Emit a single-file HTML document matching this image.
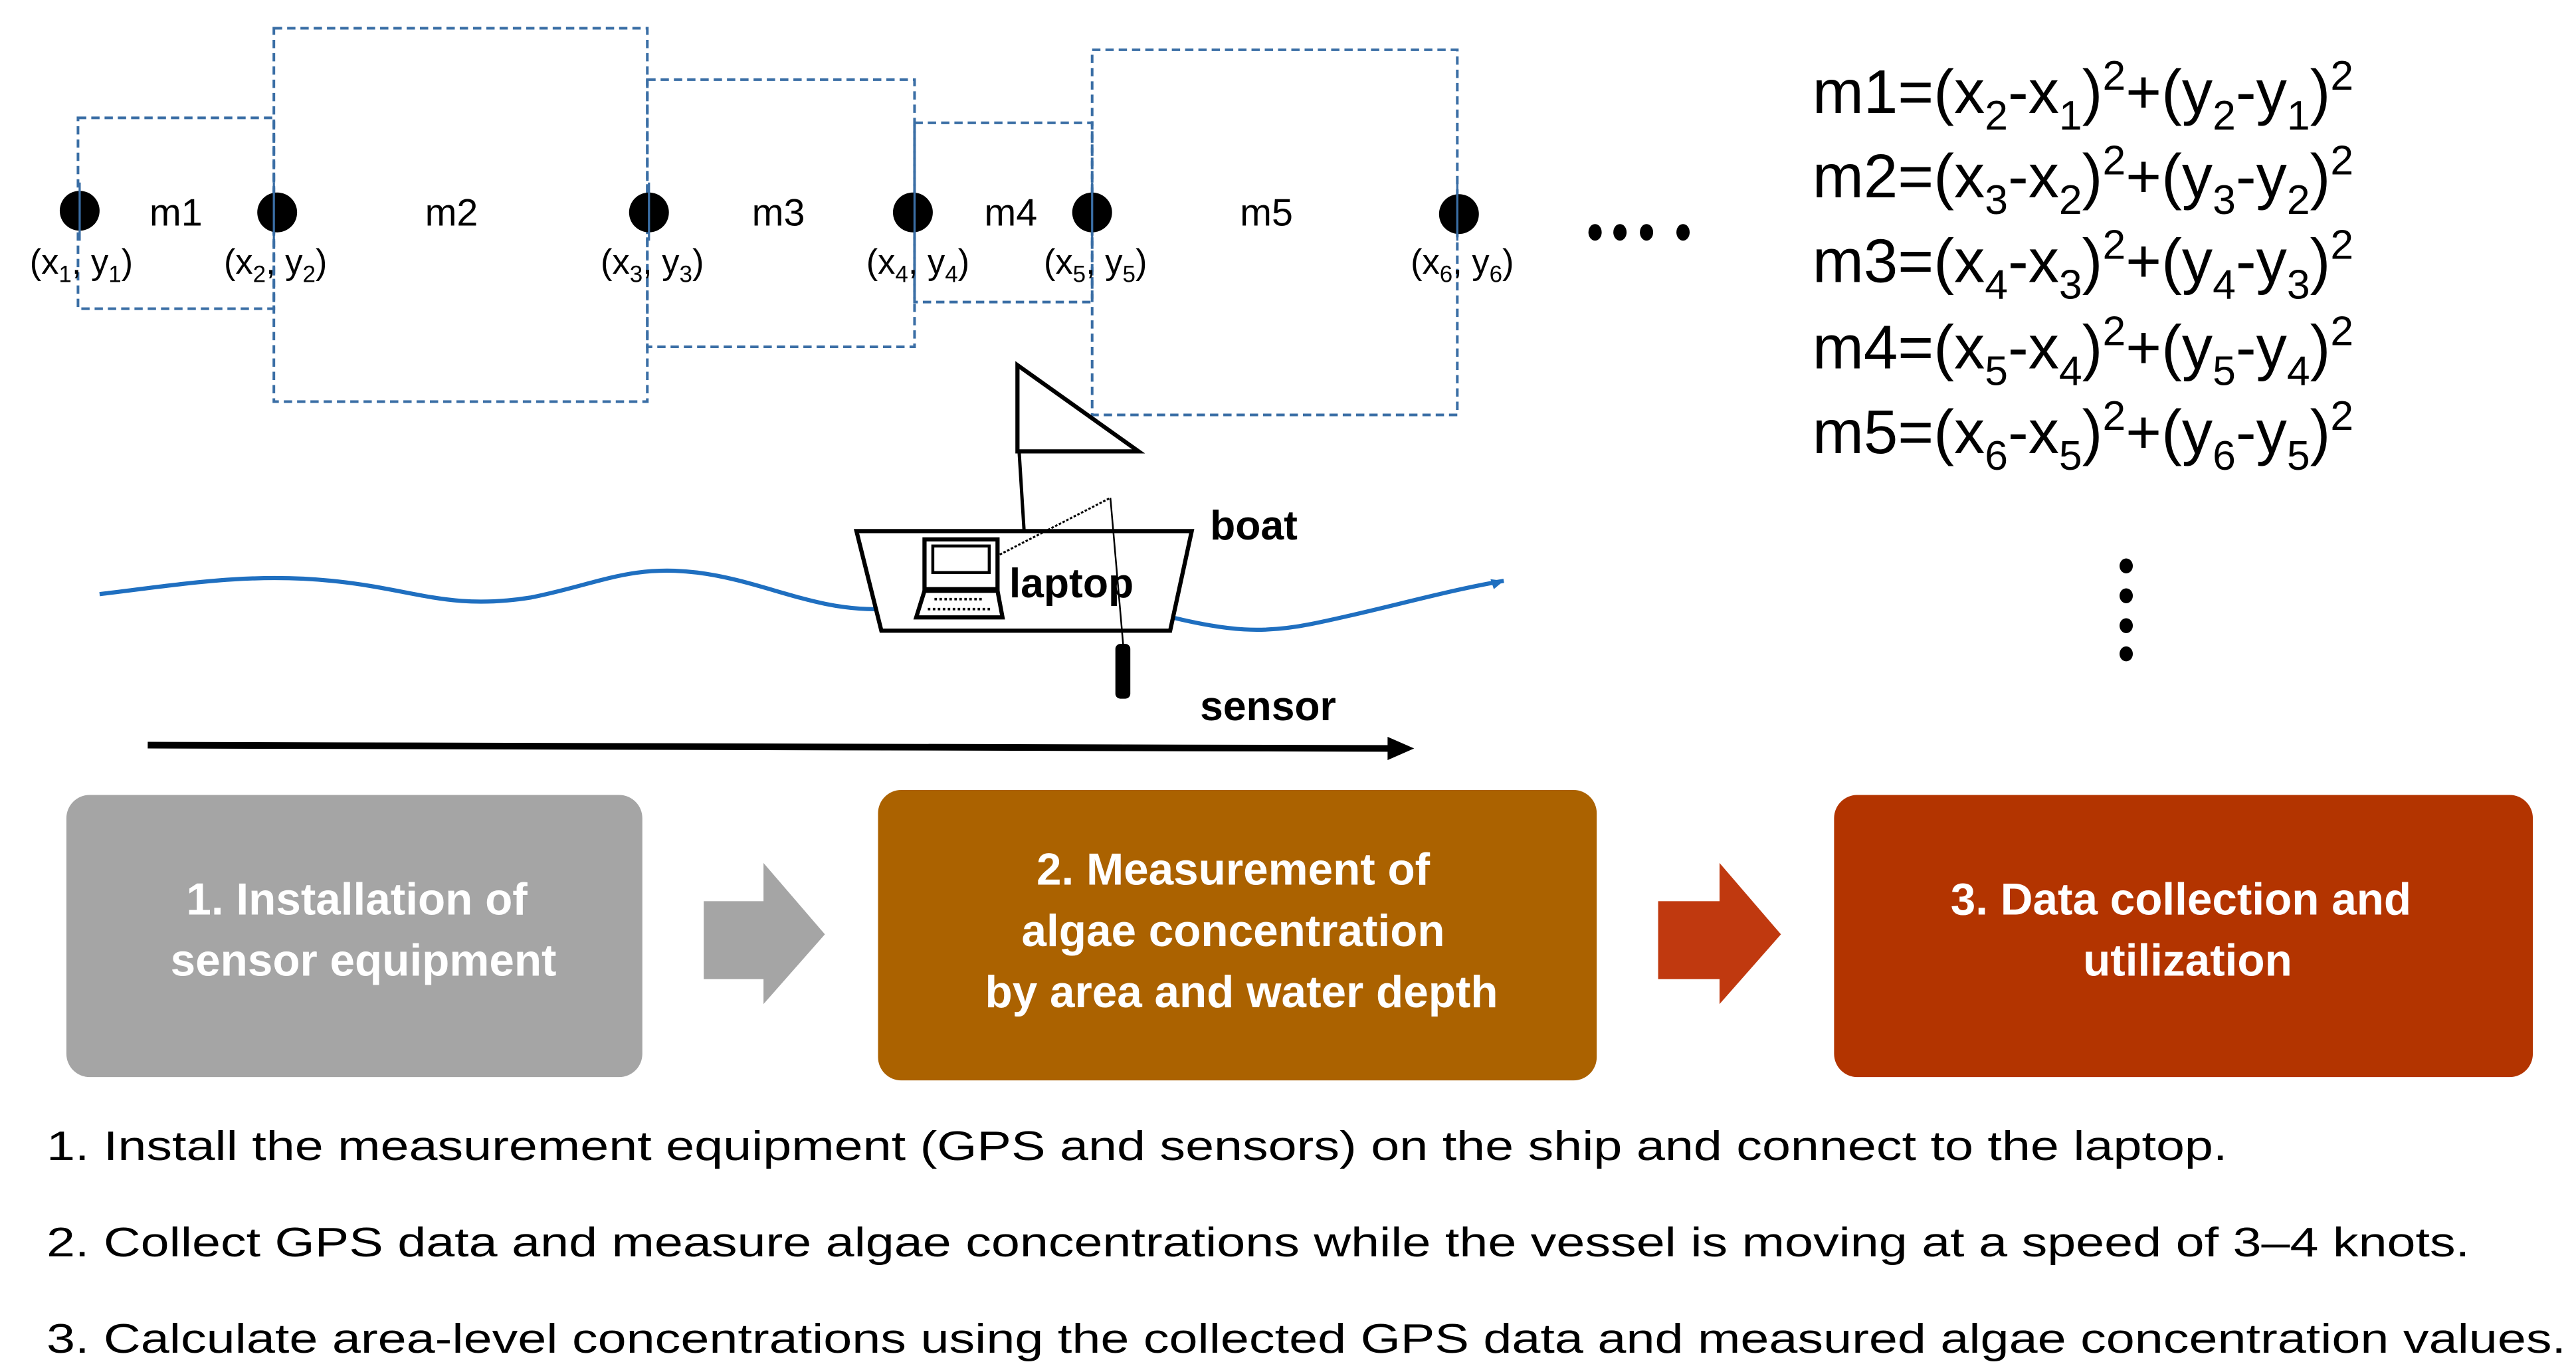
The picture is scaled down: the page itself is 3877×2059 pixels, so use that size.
<!DOCTYPE html>
<html><head><meta charset="utf-8"><style>
html,body{margin:0;padding:0;background:#fff;}
svg{display:block;}
text{font-family:"Liberation Sans",Arial,sans-serif;}
</style></head><body>
<svg width="3877" height="2059" viewBox="0 0 1552 824.3" preserveAspectRatio="none" xmlns="http://www.w3.org/2000/svg">
<!-- dashed rects -->
<g fill="none" stroke="#3a6ea5" stroke-width="1.6" stroke-dasharray="5,3">
<rect x="47" y="71" width="118" height="115"/>
<rect x="165" y="17" width="225" height="225"/>
<rect x="390" y="48" width="161" height="161"/>
<rect x="551" y="74" width="107" height="108"/>
<rect x="658" y="30" width="220" height="220"/>
</g>
<g fill="#000">
<circle cx="48" cy="127" r="12"/><circle cx="167" cy="128" r="12"/><circle cx="391" cy="128" r="12"/>
<circle cx="550" cy="128" r="12"/><circle cx="658" cy="128" r="12"/><circle cx="879" cy="129" r="12"/>
<ellipse cx="961" cy="140" rx="4" ry="5"/><ellipse cx="976" cy="140" rx="4" ry="5"/><ellipse cx="992" cy="140" rx="4" ry="5"/><ellipse cx="1014" cy="140" rx="4" ry="5"/>
<ellipse cx="1281" cy="341" rx="4" ry="4.5"/><ellipse cx="1281" cy="359" rx="4" ry="4.5"/><ellipse cx="1281" cy="377" rx="4" ry="4.5"/><ellipse cx="1281" cy="394" rx="4" ry="4.5"/>
</g>
<g stroke="#3a6ea5" stroke-width="1.3">
<line x1="48" y1="110" x2="48" y2="145"/><line x1="165" y1="110" x2="165" y2="145"/><line x1="391" y1="110" x2="391" y2="145"/><line x1="551" y1="110" x2="551" y2="145"/><line x1="658" y1="110" x2="658" y2="145"/><line x1="878" y1="110" x2="878" y2="145"/>
</g>
<g font-size="23" text-anchor="middle">
<text x="106" y="136">m1</text><text x="272" y="136">m2</text><text x="469" y="136">m3</text><text x="609" y="136">m4</text><text x="763" y="136">m5</text>
</g>
<g font-size="21" text-anchor="middle">
<text x="49" y="165">(x<tspan font-size="14" dy="5">1</tspan><tspan dy="-5">, y</tspan><tspan font-size="14" dy="5">1</tspan><tspan dy="-5">)</tspan></text>
<text x="166" y="165">(x<tspan font-size="14" dy="5">2</tspan><tspan dy="-5">, y</tspan><tspan font-size="14" dy="5">2</tspan><tspan dy="-5">)</tspan></text>
<text x="393" y="165">(x<tspan font-size="14" dy="5">3</tspan><tspan dy="-5">, y</tspan><tspan font-size="14" dy="5">3</tspan><tspan dy="-5">)</tspan></text>
<text x="553" y="165">(x<tspan font-size="14" dy="5">4</tspan><tspan dy="-5">, y</tspan><tspan font-size="14" dy="5">4</tspan><tspan dy="-5">)</tspan></text>
<text x="660" y="165">(x<tspan font-size="14" dy="5">5</tspan><tspan dy="-5">, y</tspan><tspan font-size="14" dy="5">5</tspan><tspan dy="-5">)</tspan></text>
<text x="881" y="165">(x<tspan font-size="14" dy="5">6</tspan><tspan dy="-5">, y</tspan><tspan font-size="14" dy="5">6</tspan><tspan dy="-5">)</tspan></text>
</g>
<!-- equations -->
<g font-size="37">
<text x="1092" y="68">m1=(x<tspan font-size="25" dy="10">2</tspan><tspan dy="-10">-x</tspan><tspan font-size="25" dy="10">1</tspan><tspan dy="-10">)</tspan><tspan font-size="25" dy="-14">2</tspan><tspan dy="14">+(y</tspan><tspan font-size="25" dy="10">2</tspan><tspan dy="-10">-y</tspan><tspan font-size="25" dy="10">1</tspan><tspan dy="-10">)</tspan><tspan font-size="25" dy="-14">2</tspan></text>
<text x="1092" y="119">m2=(x<tspan font-size="25" dy="10">3</tspan><tspan dy="-10">-x</tspan><tspan font-size="25" dy="10">2</tspan><tspan dy="-10">)</tspan><tspan font-size="25" dy="-14">2</tspan><tspan dy="14">+(y</tspan><tspan font-size="25" dy="10">3</tspan><tspan dy="-10">-y</tspan><tspan font-size="25" dy="10">2</tspan><tspan dy="-10">)</tspan><tspan font-size="25" dy="-14">2</tspan></text>
<text x="1092" y="170">m3=(x<tspan font-size="25" dy="10">4</tspan><tspan dy="-10">-x</tspan><tspan font-size="25" dy="10">3</tspan><tspan dy="-10">)</tspan><tspan font-size="25" dy="-14">2</tspan><tspan dy="14">+(y</tspan><tspan font-size="25" dy="10">4</tspan><tspan dy="-10">-y</tspan><tspan font-size="25" dy="10">3</tspan><tspan dy="-10">)</tspan><tspan font-size="25" dy="-14">2</tspan></text>
<text x="1092" y="222">m4=(x<tspan font-size="25" dy="10">5</tspan><tspan dy="-10">-x</tspan><tspan font-size="25" dy="10">4</tspan><tspan dy="-10">)</tspan><tspan font-size="25" dy="-14">2</tspan><tspan dy="14">+(y</tspan><tspan font-size="25" dy="10">5</tspan><tspan dy="-10">-y</tspan><tspan font-size="25" dy="10">4</tspan><tspan dy="-10">)</tspan><tspan font-size="25" dy="-14">2</tspan></text>
<text x="1092" y="273">m5=(x<tspan font-size="25" dy="10">6</tspan><tspan dy="-10">-x</tspan><tspan font-size="25" dy="10">5</tspan><tspan dy="-10">)</tspan><tspan font-size="25" dy="-14">2</tspan><tspan dy="14">+(y</tspan><tspan font-size="25" dy="10">6</tspan><tspan dy="-10">-y</tspan><tspan font-size="25" dy="10">5</tspan><tspan dy="-10">)</tspan><tspan font-size="25" dy="-14">2</tspan></text>
</g>
<!-- wave -->
<path d="M60,358 C110,352 150,345 200,350 C250,355 270,368 320,360 C360,352 380,340 420,345 C460,350 490,368 530,367" fill="none" stroke="#1f6fc0" stroke-width="2.5"/>
<path d="M706,372 C740,380 760,382 790,376 C830,368 870,356 906,350" fill="none" stroke="#1f6fc0" stroke-width="2.5"/>
<polygon points="906,350 898,349 900,355" fill="#1f6fc0"/>
<!-- boat -->
<polygon points="613,220 686,272 613,272" fill="#fff" stroke="#000" stroke-width="2.5"/>
<line x1="614" y1="272" x2="617" y2="320" stroke="#000" stroke-width="2"/>
<polygon points="516,320 718,320 705,380 531,380" fill="#fff" stroke="#000" stroke-width="2.5"/>
<line x1="589" y1="341" x2="669" y2="300" stroke="#000" stroke-width="1.2" stroke-dasharray="1.5,1"/>
<line x1="669" y1="300" x2="677" y2="392" stroke="#000" stroke-width="1"/>
<rect x="672" y="388" width="9" height="33" rx="3" fill="#000"/>
<rect x="557" y="325" width="44" height="30" fill="#fff" stroke="#000" stroke-width="2.5"/>
<rect x="562" y="329" width="34" height="16" fill="#fff" stroke="#000" stroke-width="1.8"/>
<polygon points="557,356 601,356 604,372 552,372" fill="#fff" stroke="#000" stroke-width="2.5"/>
<line x1="563" y1="361" x2="592" y2="361" stroke="#000" stroke-width="1.5" stroke-dasharray="1.5,1.5"/>
<line x1="559" y1="367" x2="598" y2="367" stroke="#000" stroke-width="1.5" stroke-dasharray="1.5,1.5"/>
<text x="608" y="360" font-size="25" font-weight="bold">laptop</text>
<text x="729" y="325" font-size="25" font-weight="bold">boat</text>
<text x="723" y="434" font-size="25" font-weight="bold">sensor</text>
<!-- long arrow -->
<line x1="89" y1="449" x2="838" y2="451" stroke="#000" stroke-width="4"/>
<polygon points="852,451 836,444 836,458" fill="#000"/>
<!-- boxes -->
<rect x="40" y="479" width="347" height="170" rx="14" fill="#a5a5a5"/>
<rect x="529" y="476" width="433" height="175" rx="14" fill="#ab6200"/>
<rect x="1105" y="479" width="421" height="170" rx="14" fill="#b33400"/>
<polygon points="424,543 460,543 460,520 497,563 460,605 460,590 424,590" fill="#a5a5a5"/>
<polygon points="999,543 1036,543 1036,520 1073,563 1036,605 1036,590 999,590" fill="#c0390f"/>
<g font-size="27" font-weight="bold" fill="#fff" text-anchor="middle">
<text x="215" y="551">1. Installation of</text>
<text x="219" y="588">sensor equipment</text>
<text x="743" y="533">2. Measurement of</text>
<text x="743" y="570">algae concentration</text>
<text x="748" y="607">by area and water depth</text>
<text x="1314" y="551">3. Data collection and</text>
<text x="1318" y="588">utilization</text>
</g>
<g font-size="25">
<text x="28" y="699" textLength="1314" lengthAdjust="spacingAndGlyphs">1. Install the measurement equipment (GPS and sensors) on the ship and connect to the laptop.</text>
<text x="28" y="757" textLength="1460" lengthAdjust="spacingAndGlyphs">2. Collect GPS data and measure algae concentrations while the vessel is moving at a speed of 3–4 knots.</text>
<text x="28" y="815" textLength="1518" lengthAdjust="spacingAndGlyphs">3. Calculate area-level concentrations using the collected GPS data and measured algae concentration values.</text>
</g>
</svg>
</body></html>
